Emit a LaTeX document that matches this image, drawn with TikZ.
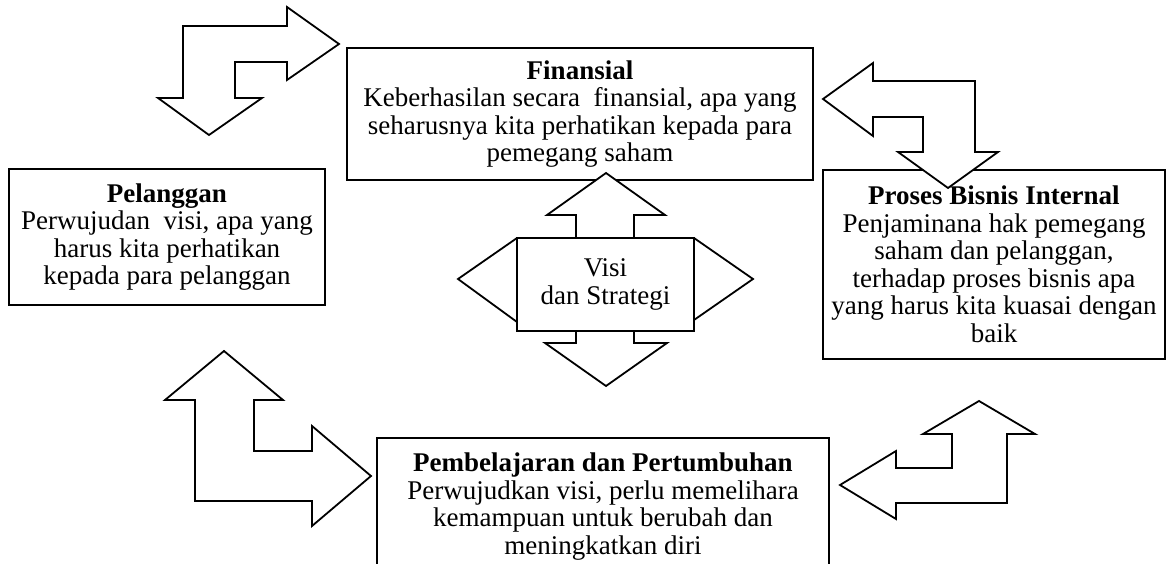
\documentclass[tikz,border=0pt]{standalone}
\usepackage{fontspec}
\setmainfont{Liberation Serif}
\usepackage{tikz}

\begin{document}
\begin{tikzpicture}[x=1pt,y=-1pt,
  every node/.style={align=center,font=\fontsize{27}{27.5}\selectfont},
  box/.style={draw,inner sep=0pt,line width=2pt},
  blockarrow/.style={draw,fill=white,line width=1.8pt,line join=miter}]
\useasboundingbox (0,0) rectangle (1167,564);

% the four perspectives
\node[box,minimum width=466pt,minimum height=132pt] (fin) at (580,114)
  {\textbf{Finansial}\\Keberhasilan secara~ finansial, apa yang\\seharusnya kita perhatikan kepada para\\pemegang saham};
\node[box,minimum width=316pt,minimum height=136pt] (plg) at (167,237)
  {\textbf{Pelanggan}\\Perwujudan~ visi, apa yang\\harus kita perhatikan\\kepada para pelanggan};
\node[box,minimum width=342pt,minimum height=189pt] (pbi) at (994,264.5)
  {\textbf{Proses Bisnis Internal}\\Penjaminana hak pemegang\\saham dan pelanggan,\\terhadap proses bisnis apa\\yang harus kita kuasai dengan\\baik};
\node[box,minimum width=452pt,minimum height=137pt] (pdp) at (603,506.5)
  {\textbf{Pembelajaran dan Pertumbuhan}\\Perwujudkan visi, perlu memelihara\\kemampuan untuk berubah dan\\meningkatkan diri};

% bent arrows between the perspectives
\draw[blockarrow] (183,26) -- (287,26) -- (287,7) -- (339,44) -- (287,80) -- (287,62)
  -- (235,62) -- (235,98) -- (262,98) -- (209,135) -- (158,98) -- (183,98) -- cycle;
\draw[blockarrow] (823,99) -- (873,63) -- (873,81) -- (975,81) -- (975,152) -- (998,152)
  -- (948,188) -- (898,152) -- (923,152) -- (923,117) -- (873,117) -- (873,136) -- cycle;
\draw[blockarrow] (224,351) -- (283,400) -- (254,400) -- (254,451) -- (312,451) -- (312,426)
  -- (371,476) -- (312,526) -- (312,501) -- (195,501) -- (195,400) -- (165,400) -- cycle;
\draw[blockarrow] (979,401) -- (1035,434) -- (1007,434) -- (1007,503) -- (896,503) -- (896,519)
  -- (840,485) -- (896,451) -- (896,468) -- (952,468) -- (952,434) -- (923,434) -- cycle;

% four-way arrow behind the centre
\draw[blockarrow] (606,173) -- (665,215) -- (634,215) -- (634,238) -- (694,238) -- (753,279)
  -- (694,320) -- (694,331) -- (634,331) -- (634,343) -- (667,343) -- (606,386) -- (545,343)
  -- (576,343) -- (576,331) -- (517,331) -- (517,322) -- (458,279) -- (517,238) -- (576,238)
  -- (576,215) -- (547,215) -- cycle;
\node[box,fill=white,minimum width=177pt,minimum height=93pt] (vs) at (605.5,284.5)
  {Visi\\dan Strategi};
\end{tikzpicture}
\end{document}
